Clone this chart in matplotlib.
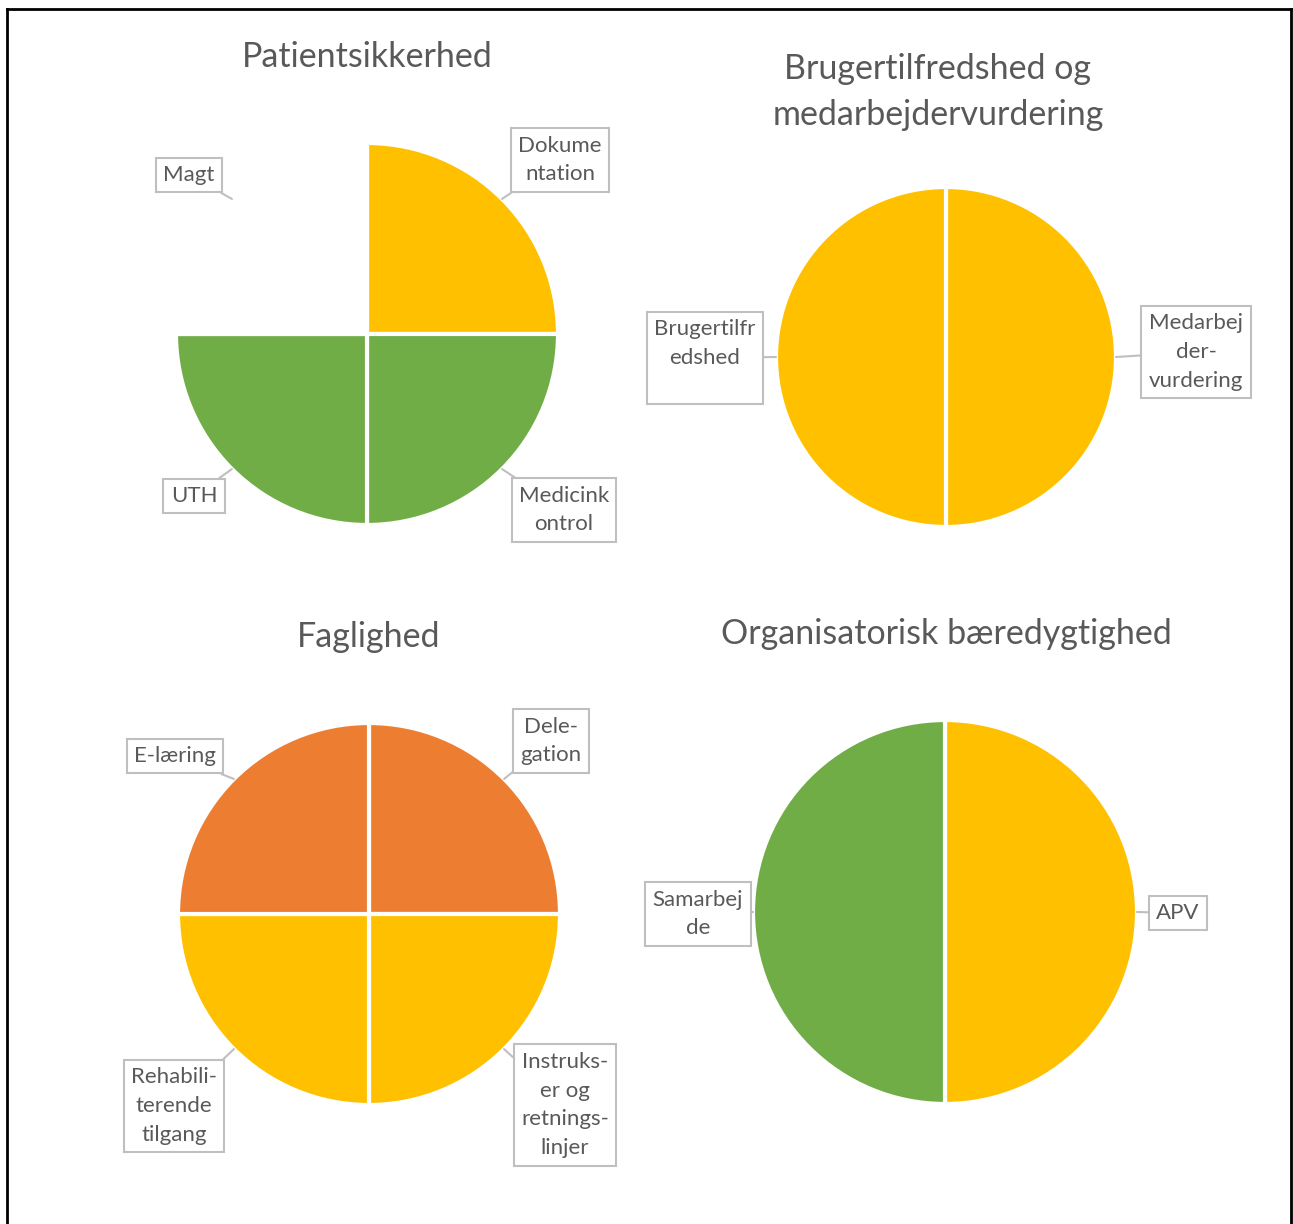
import matplotlib.pyplot as plt
from matplotlib.lines import Line2D
import numpy as np

W, H = 1293, 1224

YELLOW = '#FFC000'
GREEN = '#70AD47'
ORANGE = '#ED7D31'
BLANK = '#FFFFFF'
TEXT = '#595959'
EDGE = '#BFBFBF'

plt.rcParams['font.family'] = ['Lato', 'DejaVu Sans']

# --- data -------------------------------------------------------------
titles = ['Patientsikkerhed',
          'Brugertilfredshed og\nmedarbejdervurdering',
          'Faglighed',
          'Organisatorisk bæredygtighed']

patient_labels = ['Dokume\nntation', 'Medicink\nontrol', 'UTH', 'Magt']
patient_values = [1, 1, 1, 1]
patient_colors = [YELLOW, GREEN, GREEN, BLANK]

bruger_labels = ['Medarbej\nder-\nvurdering', 'Brugertilfr\nedshed\n']
bruger_values = [1, 1]
bruger_colors = [YELLOW, YELLOW]

faglig_labels = ['Dele-\ngation', 'Instruks-\ner og\nretnings-\nlinjer',
                 'Rehabili-\nterende\ntilgang', 'E-læring']
faglig_values = [1, 1, 1, 1]
faglig_colors = [ORANGE, YELLOW, YELLOW, ORANGE]

org_labels = ['APV', 'Samarbej\nde']
org_values = [1, 1]
org_colors = [YELLOW, GREEN]

# --- layout (pixel coordinates, y measured from top) -----------------
charts = [
    dict(values=patient_values, colors=patient_colors, labels=patient_labels,
         center=(367, 334), radius=191, title_xy=(367, 57),
         boxes=[(560, 160), (564, 510), (194, 496), (189, 175)]),
    dict(values=bruger_values, colors=bruger_colors, labels=bruger_labels,
         center=(946, 357), radius=170, title_xy=(938, 92),
         boxes=[(1196, 352), (705, 358)]),
    dict(values=faglig_values, colors=faglig_colors, labels=faglig_labels,
         center=(369, 914), radius=191, title_xy=(369, 637),
         boxes=[(551, 741), (565, 1105), (174, 1106), (175, 756)]),
    dict(values=org_values, colors=org_colors, labels=org_labels,
         center=(945, 912), radius=192, title_xy=(946, 634),
         boxes=[(1178, 913), (698, 914)]),
]


def px(x, y):
    return x, H - y


fig = plt.figure(figsize=(W / 100, H / 100), dpi=100)
ax = fig.add_axes([0, 0, 1, 1])

for title, ch in zip(titles, charts):
    cx, cy = px(*ch['center'])
    r = ch['radius']
    wedges, _ = ax.pie(ch['values'], colors=ch['colors'], center=(cx, cy),
                       radius=r, startangle=90, counterclock=False,
                       wedgeprops=dict(edgecolor='white', linewidth=3))
    ax.text(*px(*ch['title_xy']), title, ha='center', va='center',
            fontsize=24.5, color=TEXT, linespacing=1.52)
    for w, lab, box in zip(wedges, ch['labels'], ch['boxes']):
        mid = np.deg2rad((w.theta1 + w.theta2) / 2)
        anchor = (cx + r * np.cos(mid), cy + r * np.sin(mid))
        ax.annotate(lab, xy=anchor, xytext=px(*box), ha='center', va='center',
                    fontsize=16, color=TEXT, linespacing=1.55,
                    bbox=dict(boxstyle='square,pad=0.33', fc='white',
                              ec=EDGE, lw=1.5),
                    arrowprops=dict(arrowstyle='-', color=EDGE, lw=1.5,
                                    shrinkA=0, shrinkB=0))

ax.set_xlim(0, W)
ax.set_ylim(0, H)
ax.set_aspect('equal')
ax.axis('off')

# outer frame (left, top, right)
for xs, ys in [([7, 7], [9, H]), ([7, 1291], [9, 9]), ([1291, 1291], [9, H])]:
    fig.add_artist(Line2D([x / W for x in xs], [1 - y / H for y in ys],
                          color='black', lw=2))

fig.savefig('out.png', dpi=100)
